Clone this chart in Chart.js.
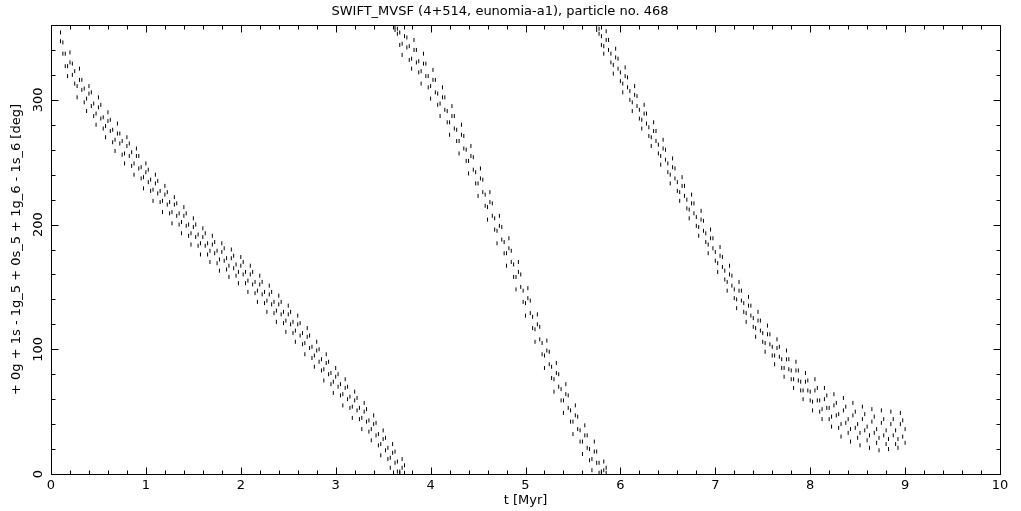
<!DOCTYPE html>
<html lang="en">
<head>
  <meta charset="UTF-8">
  <title>SWIFT_MVSF particle 468</title>
  <script src="https://cdn.jsdelivr.net/npm/chart.js"></script>
  <style>
    body {
      margin: 0;
      padding: 0;
      background-color: #fff;
    }
    canvas {
      display: block;
    }
  </style>
</head>
<body>
  <canvas id="grafica" width="1021" height="511"></canvas>

  <script>
    var titulo = 'SWIFT_MVSF (4+514, eunomia-a1), particle no. 468';
    var tituloX = 't [Myr]';
    var tituloY = '+ 0g + 1s - 1g_5 + 0s_5 + 1g_6 - 1s_6 [deg]';
    var ticksX = [0, 1, 2, 3, 4, 5, 6, 7, 8, 9, 10];
    var ticksY = [0, 100, 200, 300];

    // first branch, t 0.1 - 3.7 Myr (two samples per time step)
    var seg1T = [0.1,0.125,0.15,0.175, 0.2,0.225,0.25,0.275, 0.3,0.325,0.35,0.375, 0.4,0.425,0.45,0.475,
      0.5,0.525,0.55,0.575, 0.6,0.625,0.65,0.675, 0.7,0.725,0.75,0.775, 0.8,0.825,0.85,0.875,
      0.9,0.925,0.95,0.975, 1,1.025,1.05,1.075, 1.1,1.125,1.15,1.175, 1.2,1.225,1.25,1.275,
      1.3,1.325,1.35,1.375, 1.4,1.425,1.45,1.475, 1.5,1.525,1.55,1.575, 1.6,1.625,1.65,1.675,
      1.7,1.725,1.75,1.775, 1.8,1.825,1.85,1.875, 1.9,1.925,1.95,1.975, 2,2.025,2.05,2.075,
      2.1,2.125,2.15,2.175, 2.2,2.225,2.25,2.275, 2.3,2.325,2.35,2.375, 2.4,2.425,2.45,2.475,
      2.5,2.525,2.55,2.575, 2.6,2.625,2.65,2.675, 2.7,2.725,2.75,2.775, 2.8,2.825,2.85,2.875,
      2.9,2.925,2.95,2.975, 3,3.025,3.05,3.075, 3.1,3.125,3.15,3.175, 3.2,3.225,3.25,3.275,
      3.3,3.325,3.35,3.375, 3.4,3.425,3.45,3.475, 3.5,3.525,3.55,3.575, 3.6,3.625,3.65,3.675,
      3.7,3.725];
    var seg1A = [354,346,337,327, 338,329,323,311, 325,316,309,301, 311,306,297,289,
      302,296,286,279, 290,284,276,268, 281,273,267,257, 270,265,258,249,
      261,255,246,238, 249,244,236,228, 240,235,227,219, 231,226,218,210,
      222,217,209,202, 214,209,200,193, 205,200,192,185, 197,193,185,179,
      191,186,179,172, 185,181,173,167, 180,175,168,162, 174,170,162,155,
      167,162,154,147, 159,154,146,139, 151,146,138,131, 143,138,130,123,
      135,130,122,115, 127,121,113,105, 117,111,102,95, 106,100,92,84,
      96,90,81,74, 85,80,72,64, 76,70,62,54, 66,61,53,45,
      57,52,43,36, 47,41,32,24, 35,29,21,13, 24,18,10,2,
      12,7];
    var seg1B = [347,337,327,319, 330,320,313,302, 316,308,298,291, 305,295,287,280,
      294,285,277,270, 283,275,266,259, 273,265,256,249, 263,255,247,240,
      255,245,237,229, 242,234,227,219, 233,225,218,210, 224,216,209,201,
      216,207,200,193, 207,199,191,184, 198,190,183,176, 190,183,176,170,
      184,177,169,163, 178,171,164,158, 173,165,159,153, 167,160,153,146,
      160,152,145,138, 152,144,137,130, 144,136,129,122, 136,128,121,114,
      128,120,113,106, 120,111,104,96, 110,101,93,86, 99,90,83,75,
      89,80,72,65, 78,70,63,55, 69,60,53,45, 59,51,44,36,
      50,42,34,27, 40,31,23,15, 28,19,12,5, 17,9,2,1,
      5,1];

    // second branch, t 3.6 - 5.85 Myr
    var seg2T = [3.625,3.65,3.675,3.7, 3.725,3.75,3.775,3.8, 3.825,3.85,3.875,3.9, 3.925,3.95,3.975,4,
      4.025,4.05,4.075,4.1, 4.125,4.15,4.175,4.2, 4.225,4.25,4.275,4.3, 4.325,4.35,4.375,4.4,
      4.425,4.45,4.475,4.5, 4.525,4.55,4.575,4.6, 4.625,4.65,4.675,4.7, 4.725,4.75,4.775,4.8,
      4.825,4.85,4.875,4.9, 4.925,4.95,4.975,5, 5.025,5.05,5.075,5.1, 5.125,5.15,5.175,5.2,
      5.225,5.25,5.275,5.3, 5.325,5.35,5.375,5.4, 5.425,5.45,5.475,5.5, 5.525,5.55,5.575,5.6,
      5.625,5.65,5.675,5.7, 5.725,5.75,5.775,5.8, 5.825,5.85];
    var seg2A = [359,357,354,345, 358,350,343,333, 348,340,331,323, 337,329,319,311,
      324,316,305,297, 310,302,291,282, 295,287,276,267, 280,271,260,251,
      263,254,242,233, 245,236,224,214, 226,217,205,195, 207,198,186,177,
      189,179,168,158, 170,160,147,137, 149,139,126,116, 128,118,105,95,
      107,98,86,76, 89,80,68,59, 72,63,51,42, 55,46,35,26,
      39,31,20,12, 26,18,9,2, 10,5];
    var seg2B = [356,353,344,336, 351,342,332,325, 340,330,322,313, 329,319,310,301,
      316,306,296,287, 302,292,282,272, 287,277,267,257, 272,261,251,241,
      255,244,233,223, 237,226,215,204, 218,207,196,185, 199,188,177,167,
      181,170,158,148, 162,150,138,127, 141,129,117,106, 120,108,96,85,
      99,88,77,66, 81,70,59,49, 64,53,42,32, 47,36,26,16,
      31,21,11,3, 18,9,1,1, 3,1];

    // third branch, t 5.75 - 9.0 Myr
    var seg3T = [5.75,5.775,5.8,5.825, 5.85,5.875,5.9,5.925, 5.95,5.975,6,6.025, 6.05,6.075,6.1,6.125,
      6.15,6.175,6.2,6.225, 6.25,6.275,6.3,6.325, 6.35,6.375,6.4,6.425, 6.45,6.475,6.5,6.525,
      6.55,6.575,6.6,6.625, 6.65,6.675,6.7,6.725, 6.75,6.775,6.8,6.825, 6.85,6.875,6.9,6.925,
      6.95,6.975,7,7.025, 7.05,7.075,7.1,7.125, 7.15,7.175,7.2,7.225, 7.25,7.275,7.3,7.325,
      7.35,7.375,7.4,7.425, 7.45,7.475,7.5,7.525, 7.55,7.575,7.6,7.625, 7.65,7.675,7.7,7.725,
      7.75,7.775,7.8,7.825, 7.85,7.875,7.9,7.925, 7.95,7.975,8,8.025, 8.05,8.075,8.1,8.125,
      8.15,8.175,8.2,8.225, 8.25,8.275,8.3,8.325, 8.35,8.375,8.4,8.425, 8.45,8.475,8.5,8.525,
      8.55,8.575,8.6,8.625, 8.65,8.675,8.7,8.725, 8.75,8.775,8.8,8.825, 8.85,8.875,8.9,8.925,
      8.95,8.975,9];
    var seg3A = [359,357,351,343, 355,348,337,328, 341,333,322,313, 326,318,307,298,
      311,303,292,284, 296,289,278,270, 282,275,264,255, 268,260,249,240,
      253,245,234,226, 238,231,220,212, 224,217,206,198, 211,203,193,184,
      196,189,178,169, 182,174,163,154, 167,159,148,140, 154,147,137,129,
      142,135,125,117, 130,123,113,105, 119,112,102,95, 108,102,92,85,
      99,92,83,76, 90,83,74,67, 81,75,66,58, 76,69,59,52,
      69,63,53,46, 64,57,48,40, 61,54,44,36, 57,50,40,33,
      54,48,38,31, 52,46,36,29, 51,44,35,28, 50,44,35,28,
      49,43,36];
    var seg3B = [356,353,344,337, 348,340,330,321, 334,325,315,306, 319,310,300,291,
      304,295,285,277, 289,281,271,263, 275,267,257,248, 261,252,242,233,
      246,237,227,219, 231,223,213,205, 217,209,199,191, 204,195,186,177,
      189,181,171,162, 175,166,156,147, 160,151,141,133, 147,139,130,122,
      135,127,118,110, 123,115,106,98, 112,104,95,88, 101,94,85,78,
      92,84,76,69, 83,75,67,60, 74,67,59,51, 67,59,50,44,
      60,53,44,38, 55,47,37,30, 51,41,33,26, 47,37,29,23,
      44,35,27,21, 42,33,25,19, 41,31,24,20, 40,31,24,21,
      40,30,25];

    var fuente = { family: 'DejaVu Sans', size: 13, weight: 'normal' };

    function puntos(ts, ys) {
      return ts.map(function(t, i) { return { x: t, y: ys[i] }; });
    }

    function serie(ts, ys) {
      return {
        data: puntos(ts, ys),
        showLine: false,
        pointStyle: 'line',
        rotation: 90,
        pointRadius: 2,
        borderWidth: 1,
        borderColor: '#000',
        backgroundColor: '#000'
      };
    }

    // frame with inward ticks on all four sides
    var marco = {
      id: 'marco',
      afterDatasetsDraw: function(chart) {
        var ctx = chart.ctx;
        var a = chart.chartArea;
        var sx = chart.scales.x;
        var sy = chart.scales.y;
        var izq = Math.round(a.left) + 0.5, der = Math.round(a.right) + 0.5;
        var arr = Math.round(a.top) + 0.5, abj = Math.round(a.bottom) + 0.5;
        ctx.save();
        ctx.strokeStyle = '#000';
        ctx.lineWidth = 1;
        ctx.beginPath();
        ctx.moveTo(izq, arr); ctx.lineTo(der, arr); ctx.lineTo(der, abj); ctx.lineTo(izq, abj); ctx.closePath();
        for (var i = 0; i <= 50; i++) {
          var px = Math.round(sx.getPixelForValue(i / 5)) + 0.5;
          var l = (i % 5 === 0) ? 7 : 4;
          ctx.moveTo(px, abj); ctx.lineTo(px, abj - l);
          ctx.moveTo(px, arr); ctx.lineTo(px, arr + l);
        }
        for (var j = 0; j <= 18; j++) {
          var py = Math.round(sy.getPixelForValue(j * 20)) + 0.5;
          var m = (j % 5 === 0) ? 7 : 4;
          ctx.moveTo(izq, py); ctx.lineTo(izq + m, py);
          ctx.moveTo(der, py); ctx.lineTo(der - m, py);
        }
        ctx.stroke();
        ctx.restore();
      }
    };

    Chart.defaults.color = '#000';

    new Chart(document.getElementById('grafica').getContext('2d'), {
      type: 'scatter',
      data: {
        datasets: [
          serie(seg1T, seg1A), serie(seg1T, seg1B),
          serie(seg2T, seg2A), serie(seg2T, seg2B),
          serie(seg3T, seg3A), serie(seg3T, seg3B)
        ]
      },
      plugins: [marco],
      options: {
        responsive: false,
        animation: false,
        layout: { padding: { top: 1.4, right: 21, left: 0, bottom: 0 } },
        plugins: {
          legend: { display: false },
          tooltip: { enabled: false },
          title: {
            display: true,
            text: titulo,
            color: '#000',
            font: fuente,
            padding: { top: 2, bottom: 6 }
          }
        },
        scales: {
          x: {
            type: 'linear',
            min: 0,
            max: 10,
            grid: { display: false, drawTicks: false },
            border: { display: false },
            afterBuildTicks: function(s) { s.ticks = ticksX.map(function(v) { return { value: v }; }); },
            ticks: { padding: 4, color: '#000', font: fuente, maxRotation: 0 },
            title: { display: true, text: tituloX, color: '#000', font: fuente, padding: { top: 0, bottom: 3 } },
            afterFit: function(s) { s.height = 37; }
          },
          y: {
            type: 'linear',
            min: 0,
            max: 360,
            grid: { display: false, drawTicks: false },
            border: { display: false },
            afterBuildTicks: function(s) { s.ticks = ticksY.map(function(v) { return { value: v }; }); },
            ticks: { padding: 0, color: '#000', font: fuente, minRotation: 90, maxRotation: 90, crossAlign: 'center' },
            title: { display: true, text: tituloY, color: '#000', font: fuente, padding: { top: 9, bottom: 0 } },
            afterFit: function(s) { s.width = 51; }
          }
        }
      }
    });
  </script>
</body>
</html>
